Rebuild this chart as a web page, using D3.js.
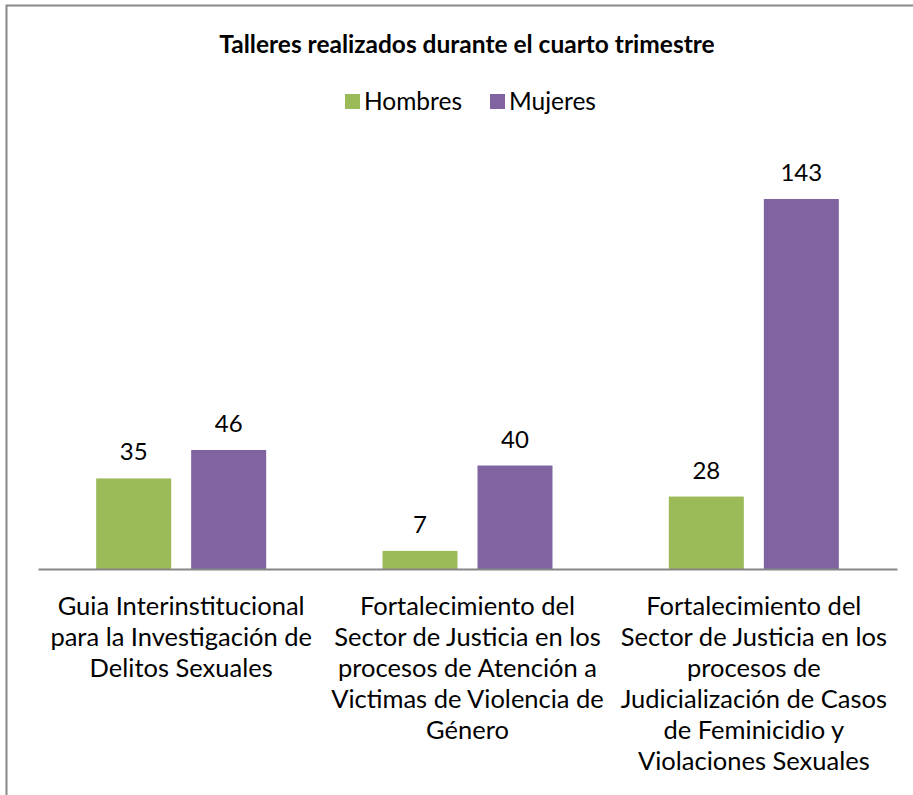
<!DOCTYPE html>
<html>
<head>
<meta charset="utf-8">
<script src="https://cdn.jsdelivr.net/npm/d3@7"></script>
<style>
  body { margin: 0; background: #fff; }
  svg { display: block; font-family: Lato, "Open Sans", sans-serif; }
</style>
</head>
<body>
<div id="chart"></div>
<script>
const categories = [
  "Guia Interinstitucional\npara la Investigación de\nDelitos Sexuales",
  "Fortalecimiento del\nSector de Justicia en los\nprocesos de Atención a\nVictimas de Violencia de\nGénero",
  "Fortalecimiento del\nSector de Justicia en los\nprocesos de\nJudicialización de Casos\nde Feminicidio y\nViolaciones Sexuales"
];
const seriesNames = ["Hombres", "Mujeres"];
const hombres = [35, 7, 28];
const mujeres = [46, 40, 143];
const colors = ["#9BBB59", "#8064A2"];
const title = "Talleres realizados durante el cuarto trimestre";

const width = 913, height = 795;
const margin = { top: 155, right: 16, bottom: 226, left: 38 };

const svg = d3.select('#chart').append('svg')
  .attr('width', width)
  .attr('height', height);

// chart frame (only top/left visible in the crop)
svg.append('rect')
  .attr('x', 6.5).attr('y', 5.5)
  .attr('width', 960).attr('height', 900)
  .attr('fill', 'none')
  .attr('stroke', '#888')
  .attr('stroke-width', 2);

svg.append('text')
  .attr('x', 467).attr('y', 53)
  .attr('text-anchor', 'middle')
  .attr('font-weight', 'bold')
  .attr('font-size', 24.5)
  .text(title);

const x0 = d3.scaleBand()
  .domain(categories)
  .range([margin.left, width - margin.right]);

const x1 = d3.scaleBand()
  .domain(seriesNames)
  .range([0, 170])
  .paddingInner(20 / 95);

const y = d3.scaleLinear()
  .domain([0, 160])
  .range([height - margin.bottom, margin.top]);

const color = d3.scaleOrdinal().domain(seriesNames).range(colors);

const rows = categories.map((c, i) => ({ cat: c, values: [
  { key: 'Hombres', value: hombres[i] },
  { key: 'Mujeres', value: mujeres[i] }
]}));

const groups = svg.append('g')
  .selectAll('g')
  .data(rows)
  .join('g')
  .attr('transform', d => `translate(${x0(d.cat) + x0.bandwidth() / 2 - 85},0)`);

groups.selectAll('rect')
  .data(d => d.values)
  .join('rect')
  .attr('x', d => x1(d.key))
  .attr('y', d => y(d.value))
  .attr('width', x1.bandwidth())
  .attr('height', d => y(0) - y(d.value))
  .attr('fill', d => color(d.key));

groups.selectAll('text.val')
  .data(d => d.values)
  .join('text')
  .attr('class', 'val')
  .attr('x', d => x1(d.key) + x1.bandwidth() / 2)
  .attr('y', d => y(d.value) - 18)
  .attr('text-anchor', 'middle')
  .attr('font-size', 24)
  .attr('fill', '#000')
  .text(d => d.value);

// x axis
const xAxis = svg.append('g')
  .attr('transform', `translate(0,${y(0)})`)
  .call(d3.axisBottom(x0).tickSize(0).tickSizeOuter(0));

xAxis.select('.domain')
  .attr('stroke', '#868686')
  .attr('stroke-width', 2);

xAxis.selectAll('.tick text').each(function (d) {
  const t = d3.select(this);
  t.text(null)
    .attr('y', 0)
    .attr('dy', null)
    .attr('font-size', 25.5)
    .attr('font-family', 'Lato, sans-serif')
    .attr('fill', '#000');
  d.split('\n').forEach((line, i) => {
    t.append('tspan')
      .attr('x', 0)
      .attr('y', 46 + i * 31)
      .text(line);
  });
});

// legend
const legendItems = [
  { key: 'Hombres', x: 345 },
  { key: 'Mujeres', x: 490 }
];
const legend = svg.append('g')
  .selectAll('g')
  .data(legendItems)
  .join('g')
  .attr('transform', d => `translate(${d.x},94)`);

legend.append('rect')
  .attr('width', 15).attr('height', 15)
  .attr('fill', d => color(d.key));

legend.append('text')
  .attr('x', 19).attr('y', 16)
  .attr('font-size', 24.5)
  .text(d => d.key);
</script>
</body>
</html>
